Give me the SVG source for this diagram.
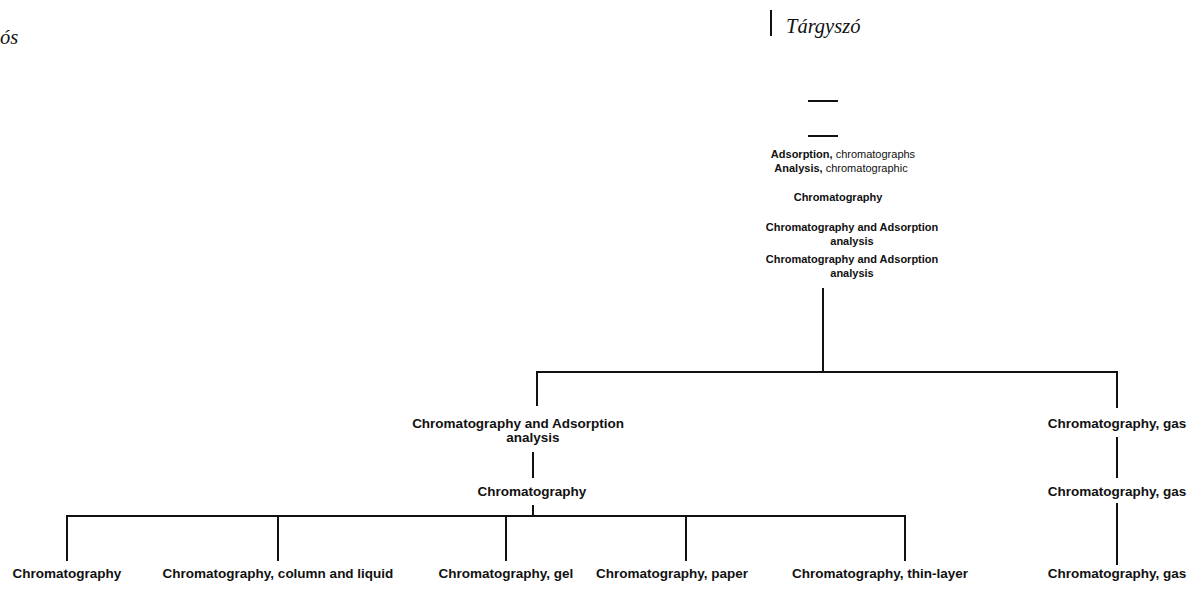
<svg xmlns="http://www.w3.org/2000/svg" width="1194" height="598" viewBox="0 0 1194 598">
<style>
.hdr{font-family:"Liberation Serif",serif;font-style:italic;font-size:20.5px;fill:#111}
.top{font-family:"Liberation Sans",Arial,sans-serif;font-weight:bold;font-size:11px;fill:#111;text-anchor:middle}
.reg{font-weight:normal}
.lbl{font-family:"Liberation Sans",Arial,sans-serif;font-weight:bold;font-size:13.5px;fill:#111;text-anchor:middle}
.ln{stroke:#111;stroke-width:2;fill:none}
</style>
<rect width="1194" height="598" fill="#fff"/>
<g id="header">
<text class="hdr" x="0" y="44">ós</text>
<line class="ln" x1="771" y1="10" x2="771" y2="36" stroke-width="1.5"/>
<text class="hdr" x="786" y="33">Tárgyszó</text>
<line class="ln" x1="808" y1="101" x2="838" y2="101"/>
<line class="ln" x1="808" y1="136" x2="838" y2="136"/>
</g>
<g id="n-adsorption">
<text class="top" x="843" y="158">Adsorption,<tspan class="reg"> chromatographs</tspan></text>
<text class="top" x="841" y="172">Analysis,<tspan class="reg"> chromatographic</tspan></text>
</g>
<g id="n-top-chrom"><text class="top" x="838" y="201">Chromatography</text></g>
<g id="n-top-ca1"><text class="top" x="852" y="231">Chromatography and Adsorption</text><text class="top" x="852" y="245">analysis</text></g>
<g id="n-top-ca2"><text class="top" x="852" y="263">Chromatography and Adsorption</text><text class="top" x="852" y="277">analysis</text></g>
<g id="n-mid-ca"><text class="lbl" x="518" y="428">Chromatography and Adsorption</text><text class="lbl" x="533" y="442">analysis</text></g>
<g id="n-mid-chrom"><text class="lbl" x="532" y="496">Chromatography</text></g>
<g id="n-gas1"><text class="lbl" x="1117" y="428">Chromatography, gas</text></g>
<g id="n-gas2"><text class="lbl" x="1117" y="496">Chromatography, gas</text></g>
<g id="n-b1"><text class="lbl" x="67" y="578">Chromatography</text></g>
<g id="n-b2"><text class="lbl" x="278" y="578">Chromatography, column and liquid</text></g>
<g id="n-b3"><text class="lbl" x="506" y="578">Chromatography, gel</text></g>
<g id="n-b4"><text class="lbl" x="672" y="578">Chromatography, paper</text></g>
<g id="n-b5"><text class="lbl" x="880" y="578">Chromatography, thin-layer</text></g>
<g id="n-gas3"><text class="lbl" x="1117" y="578">Chromatography, gas</text></g>
<g id="connectors">
<path class="ln" d="M823 288V372M537 406V372H1117V408"/>
<path class="ln" d="M533 452V478M533 505V516M67 561V516H905V561M278 516V561M506 516V561M686 516V561"/>
<path class="ln" d="M1117 437V478M1117 503V565"/>
</g>
</svg>
